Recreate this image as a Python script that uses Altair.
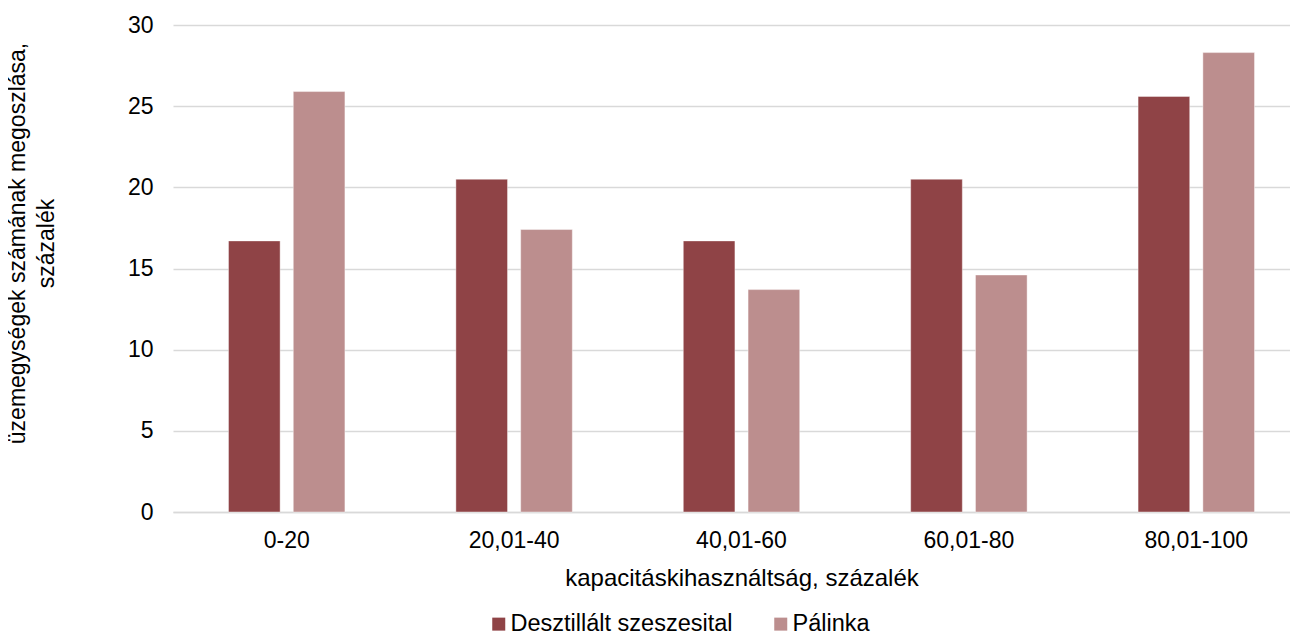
import altair as alt
import pandas as pd

categories = ["0-20", "20,01-40", "40,01-60", "60,01-80", "80,01-100"]
series = ["Desztillált szeszesital", "Pálinka"]
desztillalt = [16.7, 20.5, 16.7, 20.5, 25.6]
palinka = [25.9, 17.4, 13.7, 14.6, 28.3]
colors = ["#8F4346", "#BC8E8E"]
y_ticks = [0, 5, 10, 15, 20, 25, 30]

rows = []
for c, d, p in zip(categories, desztillalt, palinka):
    rows.append({"kat": c, "sor": series[0], "ertek": d})
    rows.append({"kat": c, "sor": series[1], "ertek": p})
df = pd.DataFrame(rows)

FONT = "Liberation Sans"

chart = alt.Chart(df).mark_bar(stroke="#ffffff", strokeWidth=0.7, strokeOpacity=0.6).encode(
    x=alt.X(
        "kat:N",
        sort=categories,
        scale=alt.Scale(range=[0, 1137], paddingInner=0.488, paddingOuter=0.244),
        axis=alt.Axis(
            title="kapacitáskihasználtság, százalék",
            labelAngle=0,
            ticks=False,
            labelPadding=17,
            labelFontSize=23,
            labelColor="#000000",
            domainColor="#D9D9D9",
            domainWidth=1.5,
            titleFontSize=24,
            titleFontWeight="normal",
            titleColor="#000000",
            titleX=568.5,
            titleY=73,
            titleBaseline="alphabetic",
            titleAlign="center",
            grid=False,
        ),
    ),
    xOffset=alt.XOffset("sor:N", sort=series, scale=alt.Scale(paddingInner=0.203, paddingOuter=0)),
    y=alt.Y(
        "ertek:Q",
        scale=alt.Scale(domain=[0, 30], nice=False),
        axis=alt.Axis(
            title=["üzemegységek számának megoszlása,", "százalék"],
            values=y_ticks,
            ticks=False,
            domain=False,
            labelPadding=20,
            labelFontSize=23,
            labelColor="#000000",
            gridColor="#D9D9D9",
            gridWidth=1.5,
            titleFontSize=23,
            titleFontWeight="normal",
            titleColor="#000000",
            titleAngle=270,
            titleX=-149,
            titleY=218,
            titleAlign="center",
            titleBaseline="alphabetic",
            titleLineHeight=29,
        ),
    ),
    color=alt.Color(
        "sor:N",
        sort=series,
        scale=alt.Scale(domain=series, range=colors),
        legend=alt.Legend(
            title=None,
            orient="none",
            legendX=314,
            legendY=587,
            direction="horizontal",
            symbolType="square",
            symbolSize=169,
            symbolStrokeWidth=0,
            labelFontSize=23.5,
            labelColor="#000000",
            labelLimit=0,
            labelOffset=0,
            columnPadding=36,
            padding=0,
        ),
    ),
).properties(
    width=1117,
    height=487,
    autosize=alt.AutoSizeParams(type="none"),
    padding={"left": 165, "top": 17, "right": 0, "bottom": 122},
).configure(
    font=FONT,
    background="#ffffff",
).configure_view(
    stroke=None,
)

chart.save("out.html", embed_options={"renderer": "svg", "actions": False})
